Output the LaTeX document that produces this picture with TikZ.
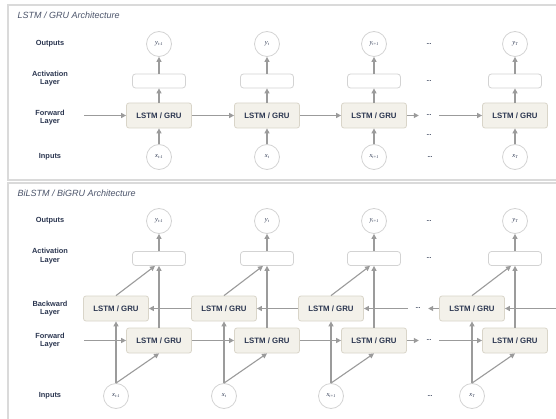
\documentclass[tikz,border=0pt]{standalone}
\usepackage{fontspec}
\setmainfont{Liberation Sans}
\newfontfamily\serifit{Liberation Serif}
\usetikzlibrary{arrows.meta,calc}
\definecolor{ink}{HTML}{2B3650}
\definecolor{frame}{HTML}{DADADA}
\definecolor{cellfill}{HTML}{F3F1EA}
\definecolor{celldraw}{HTML}{D9D5C9}
\definecolor{arrowgray}{HTML}{9B9B9B}
\definecolor{ringgray}{HTML}{D3D3D3}
% variable name with a small lowered index
\newcommand\ioname[2]{#1\raisebox{-1pt}{\fontsize{4.2}{4.2}\selectfont #2}}

\begin{document}
\begin{tikzpicture}[x=1pt,y=-1pt,
  panel/.style={draw=frame,line width=1.3pt},
  paneltitle/.style={anchor=west,font=\fontsize{9}{10}\selectfont\itshape,text=ink!85},
  rowlabel/.style={align=center,font=\fontsize{7.4}{8.6}\selectfont\bfseries,text=ink},
  cell/.style={rectangle,rounded corners=2.5pt,fill=cellfill,draw=celldraw,line width=0.8pt,
    minimum width=65pt,minimum height=25pt,inner sep=0pt,
    font=\fontsize{7.8}{9}\selectfont\bfseries,text=ink},
  actbox/.style={rectangle,rounded corners=3pt,fill=white,draw=ringgray,line width=0.8pt,
    minimum width=53pt,minimum height=14pt,inner sep=0pt},
  io/.style={circle,fill=white,draw=ringgray,line width=0.8pt,minimum size=25pt,inner sep=0pt,
    font=\fontsize{6.5}{7}\selectfont\serifit\itshape,text=ink},
  gap/.style={minimum width=20pt,inner sep=0pt,font=\fontsize{6}{6}\selectfont\bfseries,text=ink},
  flow/.style={draw=arrowgray,line width=1.1pt,-{Triangle[length=5pt,width=5pt]}},
]
\clip (0,0) rectangle (556,419);
\fill[white] (0,0) rectangle (556,419);

% ---------------- unidirectional network ----------------
\draw[panel] (8,5) rectangle (570,180);
\node[paneltitle] (ttitle) at (14,15) {LSTM / GRU Architecture};

\node[rowlabel] (tlout) at (50,44) {Outputs};
\node[rowlabel] (tlact) at (50,78.5) {Activation\\Layer};
\node[rowlabel] (tlfw)  at (50,117.5) {Forward\\Layer};
\node[rowlabel] (tlin)  at (50,157) {Inputs};

\foreach \k/\xc/\s in {1/159/t-1,2/267/t,3/374/t+1,4/515/T}{
  \node[io] (tout\k) at (\xc,44) {\ioname{y}{\s}};
  \node[actbox] (tact\k) at (\xc,81) {};
  \node[cell] (tcell\k) at (\xc,115.5) {LSTM / GRU};
  \node[io] (tin\k) at (\xc,157) {\ioname{x}{\s}};
  \draw[flow] (tin\k) -- (tcell\k);
  \draw[flow] (tcell\k) -- (tact\k);
  \draw[flow] (tact\k) -- (tout\k);
}

\node[gap] (tgapout) at (429,44) {...};
\node[gap] (tgapact) at (429,81) {...};
\node[gap] (tgapfw)  at (429,115.5) {...};
\node[gap] (tgapmid) at (429,135) {...};
\node[gap] (tgapin)  at (430,157) {...};

\coordinate (tstart) at (84,115.5);
\draw[flow] (tstart) -- (tcell1);
\draw[flow] (tcell1) -- (tcell2);
\draw[flow] (tcell2) -- (tcell3);
\draw[flow] (tcell3) -- (tgapfw);
\draw[flow] (tgapfw) -- (tcell4);

% ---------------- bidirectional network ----------------
\draw[panel] (8,183) rectangle (570,430);
\node[paneltitle] (btitle) at (14,193) {BiLSTM / BiGRU Architecture};

\node[rowlabel] (blout) at (50,221) {Outputs};
\node[rowlabel] (blact) at (50,256) {Activation\\Layer};
\node[rowlabel] (blbw)  at (50,308.7) {Backward\\Layer};
\node[rowlabel] (blfw)  at (50,340.5) {Forward\\Layer};
\node[rowlabel] (blin)  at (50,396) {Inputs};

\foreach \k/\xc/\xb/\s in {1/159/116/t-1,2/267/224/t,3/374/331/t+1,4/515/472/T}{
  \node[io] (bout\k) at (\xc,221) {\ioname{y}{\s}};
  \node[actbox] (bact\k) at (\xc,258.5) {};
  \node[cell] (bbw\k) at (\xb,308.5) {LSTM / GRU};
  \node[cell] (bfw\k) at (\xc,340.5) {LSTM / GRU};
  \node[io] (bin\k) at (\xb,396) {\ioname{x}{\s}};
  \draw[flow] (bin\k.north) -- (bbw\k.south);
  \draw[flow] (bin\k.north) -- (bfw\k.south);
  \draw[flow] (bbw\k.north) -- ($(bact\k.south)+(-4,0)$);
  \draw[flow] (bfw\k.north) -- (bact\k.south);
  \draw[flow] (bact\k) -- (bout\k);
}

\node[gap] (bgapout) at (429,221) {...};
\node[gap] (bgapact) at (429,258.5) {...};
\node[gap] (bgapbw)  at (418,308.5) {...};
\node[gap] (bgapfw)  at (429,340.5) {...};
\node[gap] (bgapin)  at (430,396) {...};

% forward chain
\coordinate (bstart) at (84,340.5);
\draw[flow] (bstart) -- (bfw1);
\draw[flow] (bfw1) -- (bfw2);
\draw[flow] (bfw2) -- (bfw3);
\draw[flow] (bfw3) -- (bgapfw);
\draw[flow] (bgapfw) -- (bfw4);

% backward chain
\coordinate (bend) at (562,308.5);
\draw[flow] (bend) -- (bbw4);
\draw[flow] (bbw4) -- (bgapbw);
\draw[flow] (bgapbw) -- (bbw3);
\draw[flow] (bbw3) -- (bbw2);
\draw[flow] (bbw2) -- (bbw1);
\end{tikzpicture}
\end{document}
